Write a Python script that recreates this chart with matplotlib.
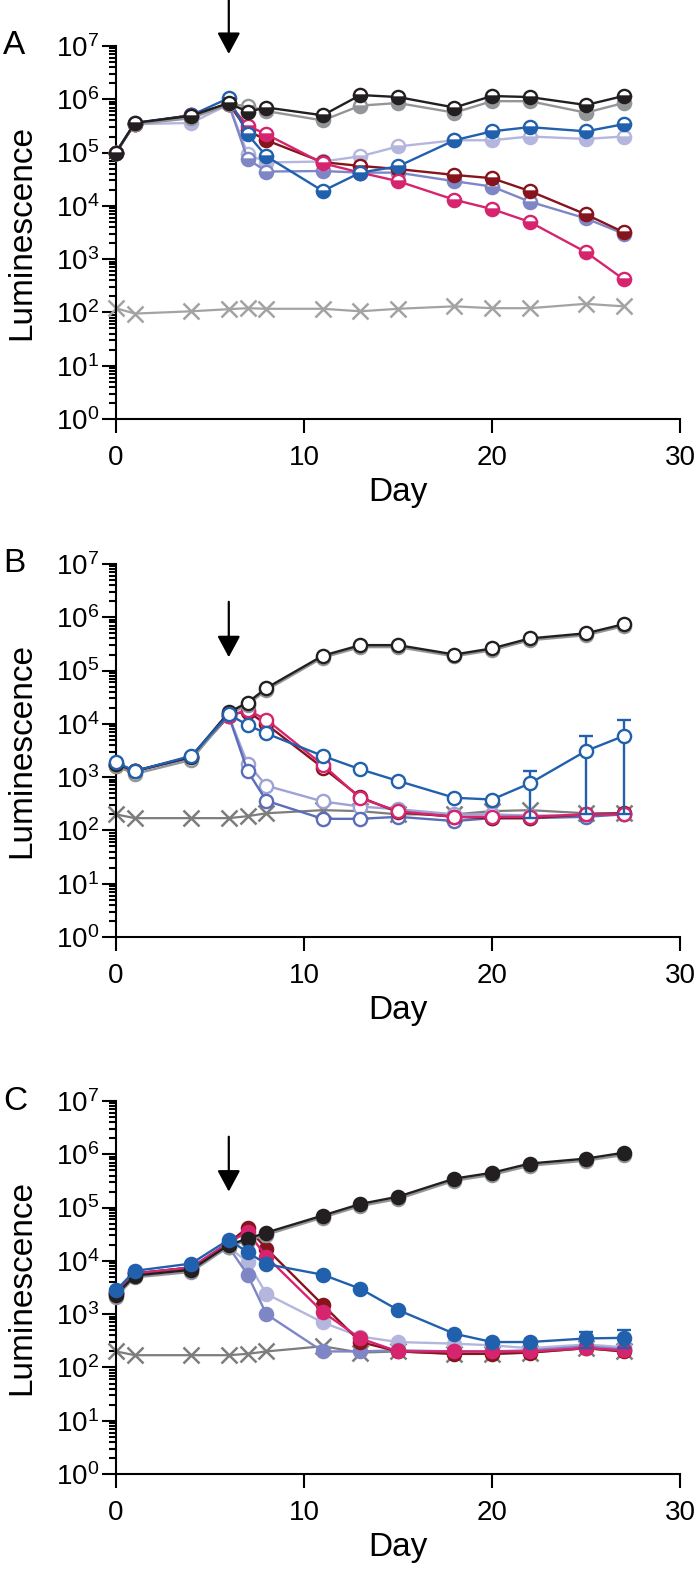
import matplotlib
matplotlib.use('Agg')
import matplotlib.pyplot as plt
from matplotlib.ticker import LogLocator, NullFormatter, NullLocator, LogFormatterSciNotation

plt.rcParams['font.family'] = ['Liberation Sans', 'DejaVu Sans']
plt.rcParams['mathtext.default'] = 'regular'

days = [0, 1, 4, 6, 7, 8, 11, 13, 15, 18, 20, 22, 25, 27]

# panel A (half filled)
a_black = [1.0e5, 3.6e5, 4.9e5, 8.5e5, 5.8e5, 7.0e5, 5.0e5, 1.2e6, 1.1e6, 7.0e5, 1.15e6, 1.1e6, 7.8e5, 1.15e6]
a_gray = [1.0e5, 3.4e5, 4.4e5, 8.0e5, 7.5e5, 6.0e5, 4.0e5, 7.6e5, 8.5e5, 5.6e5, 9.2e5, 9.2e5, 5.6e5, 8.5e5]
a_blue = [1.0e5, 3.6e5, 5.0e5, 1.05e6, 2.2e5, 8.5e4, 1.9e4, 4.2e4, 5.5e4, 1.7e5, 2.5e5, 3.0e5, 2.5e5, 3.4e5]
a_lav = [1.0e5, 3.4e5, 3.6e5, 8.0e5, 9.5e4, 6.5e4, 6.8e4, 8.5e4, 1.3e5, 1.7e5, 1.7e5, 2.0e5, 1.8e5, 2.0e5]
a_dred = [1.0e5, 3.5e5, 5.0e5, 8.2e5, 2.6e5, 1.7e5, 6.6e4, 5.6e4, 4.9e4, 3.8e4, 3.3e4, 1.9e4, 6.9e3, 3.2e3]
a_mag = [1.0e5, 3.5e5, 5.0e5, 8.2e5, 3.2e5, 2.2e5, 6.3e4, 4.2e4, 2.9e4, 1.3e4, 8.7e3, 5.0e3, 1.35e3, 4.2e2]
a_purp = [1.0e5, 3.5e5, 4.6e5, 8.0e5, 7.6e4, 4.4e4, 4.5e4, 4.2e4, 4.2e4, 2.9e4, 2.3e4, 1.2e4, 5.8e3, 3.0e3]
a_x = [1.2e2, 9.5e1, 1.05e2, 1.15e2, 1.2e2, 1.17e2, 1.17e2, 1.05e2, 1.17e2, 1.3e2, 1.2e2, 1.2e2, 1.45e2, 1.3e2]

# panel B (open)
b_black = [1.8e3, 1.3e3, 2.4e3, 1.65e4, 2.5e4, 4.7e4, 1.9e5, 3.0e5, 3.0e5, 2.0e5, 2.6e5, 4.0e5, 5.0e5, 7.4e5]
b_gray = [1.6e3, 1.15e3, 2.1e3, 1.5e4, 2.3e4, 4.3e4, 1.75e5, 2.75e5, 2.75e5, 1.85e5, 2.4e5, 3.7e5, 4.6e5, 6.8e5]
b_blue = [1.9e3, 1.3e3, 2.5e3, 1.5e4, 9.5e3, 6.6e3, 2.5e3, 1.4e3, 8.5e2, 4.1e2, 3.8e2, 7.6e2, 3.1e3, 5.9e3]
b_blue_lo = [0, 0, 0, 0, 0, 0, 0, 0, 0, 0, 0, 5.9e2, 2.9e3, 5.7e3]
b_blue_hi = [0, 0, 0, 0, 0, 0, 0, 0, 0, 0, 0, 5.4e2, 2.8e3, 6.1e3]
b_lav = [1.8e3, 1.3e3, 2.3e3, 1.4e4, 1.8e3, 6.9e2, 3.5e2, 2.8e2, 2.5e2, 2.0e2, 2.0e2, 1.9e2, 1.9e2, 2.0e2]
b_dred = [1.6e3, 1.3e3, 2.4e3, 1.5e4, 1.7e4, 9.8e3, 1.5e3, 4.2e2, 2.2e2, 1.8e2, 1.7e2, 1.7e2, 2.0e2, 2.1e2]
b_mag = [1.7e3, 1.3e3, 2.4e3, 1.4e4, 1.8e4, 1.2e4, 1.7e3, 4.0e2, 2.3e2, 1.8e2, 1.8e2, 1.8e2, 2.0e2, 2.0e2]
b_purp = [1.8e3, 1.3e3, 2.3e3, 1.4e4, 1.3e3, 3.6e2, 1.65e2, 1.65e2, 1.8e2, 1.5e2, 1.7e2, 1.7e2, 1.8e2, 2.0e2]
b_x = [2.0e2, 1.7e2, 1.7e2, 1.7e2, 1.85e2, 2.1e2, 2.4e2, 2.3e2, 2.0e2, 2.0e2, 2.3e2, 2.4e2, 2.1e2, 2.1e2]

# panel C (filled)
c_black = [2.3e3, 5.3e3, 6.8e3, 2.0e4, 2.6e4, 3.4e4, 7.1e4, 1.17e5, 1.6e5, 3.5e5, 4.5e5, 6.7e5, 8.3e5, 1.07e6]
c_gray = [2.1e3, 4.9e3, 6.2e3, 1.85e4, 2.4e4, 3.1e4, 6.5e4, 1.07e5, 1.45e5, 3.2e5, 4.1e5, 6.1e5, 7.6e5, 9.7e5]
c_blue = [2.8e3, 6.5e3, 8.9e3, 2.5e4, 1.45e4, 8.7e3, 5.5e3, 3.0e3, 1.2e3, 4.3e2, 3.0e2, 3.0e2, 3.5e2, 3.6e2]
c_blue_lo = [0, 0, 0, 0, 0, 0, 0, 0, 0, 0, 0, 0, 1.2e2, 1.3e2]
c_blue_hi = [0, 0, 0, 0, 0, 0, 0, 0, 0, 0, 0, 0, 1.2e2, 1.4e2]
c_lav = [2.5e3, 5.8e3, 7.5e3, 1.8e4, 9.5e3, 2.4e3, 7.0e2, 3.8e2, 3.0e2, 2.8e2, 2.6e2, 2.3e2, 2.7e2, 2.4e2]
c_dred = [2.5e3, 5.8e3, 7.5e3, 2.2e4, 4.2e4, 1.7e4, 1.5e3, 3.0e2, 2.0e2, 1.8e2, 1.8e2, 1.9e2, 2.3e2, 2.0e2]
c_mag = [2.5e3, 5.8e3, 7.5e3, 2.2e4, 3.5e4, 1.2e4, 1.1e3, 3.5e2, 2.0e2, 2.0e2, 2.0e2, 2.0e2, 2.3e2, 2.1e2]
c_purp = [2.5e3, 5.8e3, 7.5e3, 1.8e4, 5.5e3, 1.0e3, 2.0e2, 2.0e2, 2.1e2, 2.0e2, 2.0e2, 2.1e2, 2.5e2, 2.2e2]
c_x = [2.0e2, 1.7e2, 1.7e2, 1.7e2, 1.8e2, 2.0e2, 2.5e2, 1.9e2, 2.0e2, 1.8e2, 1.8e2, 1.9e2, 2.3e2, 2.0e2]

BLACK = '#231f20'
GRAY = '#939598'
BLUE = '#2160ad'
DRED = '#86141c'
MAG = '#d6246e'
PURP = '#7f86c5'
LAV = '#b4b6dd'
# panel B uses slightly stronger blues for the two lower groups
PURP_B = '#5a6dba'
LAV_B = '#9ea2d5'


def draw_panel(ax, xs, lav, purp, dred, mag, blue, gray, black, style, xcolor,
               blue_err=None, arrow=(6.2, 5.2), letter='A', lav_col=LAV, purp_col=PURP):
    ax.plot(days, xs, color=xcolor, lw=1.6, marker='x', ms=11, mew=1.8, clip_on=False, zorder=2)
    for ys, col in [(lav, lav_col), (purp, purp_col), (dred, DRED), (mag, MAG), (blue, BLUE),
                    (gray, GRAY), (black, BLACK)]:
        kw = dict(color=col, lw=1.7, marker='o', ms=9.5, mew=1.7, mec=col, clip_on=False, zorder=3)
        if style == 'half':
            kw.update(mfc=col, fillstyle='bottom', markerfacecoloralt='white')
        elif style == 'open':
            kw.update(mfc='white')
        else:
            kw.update(mfc=col)
        if col == BLUE and blue_err is not None:
            ax.errorbar(days, ys, yerr=blue_err, ecolor=col, elinewidth=1.7, capsize=4.7,
                        capthick=1.7, **kw)
        else:
            ax.plot(days, ys, **kw)

    ax.set_yscale('log')
    ax.set_ylim(1, 1e7)
    ax.set_xlim(0, 30)
    ax.set_xticks([0, 10, 20, 30])
    ax.xaxis.set_minor_locator(NullLocator())
    ax.yaxis.set_major_locator(LogLocator(base=10, numticks=10))
    ax.yaxis.set_major_formatter(LogFormatterSciNotation())
    ax.yaxis.set_minor_locator(LogLocator(base=10, subs=range(2, 10), numticks=20))
    ax.yaxis.set_minor_formatter(NullFormatter())
    for s in ['top', 'right']:
        ax.spines[s].set_visible(False)
    for s in ['left', 'bottom']:
        ax.spines[s].set_linewidth(1.5)
    ax.tick_params(which='major', direction='out', length=10, width=1.5, labelsize=20)
    ax.tick_params(axis='x', pad=9)
    ax.tick_params(axis='y', pad=2)
    ax.tick_params(which='minor', direction='out', length=5, width=1.5)

    ax.text(-0.167, 0.5, 'Luminescence', transform=ax.transAxes, rotation=90,
            ha='center', va='center', fontsize=24)
    ax.text(0.5, -0.196, 'Day', transform=ax.transAxes, ha='center', va='center', fontsize=24)
    ax.text(-0.20, 1.0, letter, transform=ax.transAxes, ha='left', va='center', fontsize=24)

    ax.annotate('', xy=(6, 10 ** arrow[1]), xytext=(6, 10 ** arrow[0]),
                arrowprops=dict(arrowstyle='-|>,head_length=0.65,head_width=0.35',
                                color='black', lw=1.6, shrinkA=0, shrinkB=0, mutation_scale=20),
                annotation_clip=False)


fig = plt.figure(figsize=(7, 15.74), dpi=100)
axA = fig.add_axes([0.1657, 0.7338, 0.8057, 0.237])
axB = fig.add_axes([0.1657, 0.4047, 0.8057, 0.237])
axC = fig.add_axes([0.1657, 0.0635, 0.8057, 0.237])

draw_panel(axA, a_x, a_lav, a_purp, a_dred, a_mag, a_blue, a_gray, a_black, 'half', '#a3a3a3',
           arrow=(7.88, 6.85), letter='A')
draw_panel(axB, b_x, b_lav, b_purp, b_dred, b_mag, b_blue, b_gray, b_black, 'open', '#7d7d7d',
           blue_err=[b_blue_lo, b_blue_hi], arrow=(6.29, 5.25), letter='B',
           lav_col=LAV_B, purp_col=PURP_B)
draw_panel(axC, c_x, c_lav, c_purp, c_dred, c_mag, c_blue, c_gray, c_black, 'filled', '#7d7d7d',
           blue_err=[c_blue_lo, c_blue_hi], arrow=(6.33, 5.30), letter='C')

fig.savefig('out.png', dpi=100)
